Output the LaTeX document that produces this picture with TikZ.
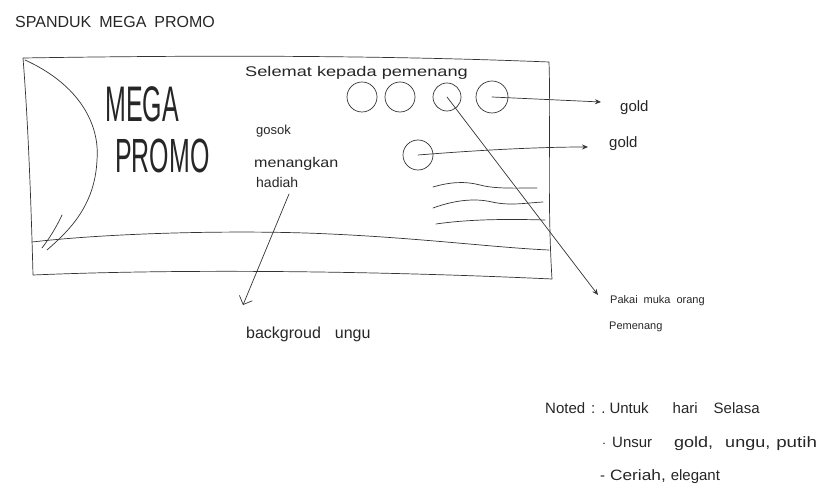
\documentclass[tikz,border=0pt]{standalone}
\usepackage{fontspec}
\setmainfont{Liberation Sans}
\usetikzlibrary{arrows.meta}
\newcommand{\hwsize}[1]{\fontsize{#1}{#1}\selectfont}
\begin{document}
\begin{tikzpicture}[x=1pt,y=-1pt,
  pen/.style={draw=black!80,line width=0.7pt,line cap=round,line join=round},
  circ/.style={pen,circle,minimum size=30pt,inner sep=0pt},
  hw/.style={inner sep=0pt,text=black!85},
  arr/.style={pen,-{Stealth[length=6pt,width=5pt]}},
  openarr/.style={pen,-{Straight Barb[length=7pt,width=14pt]}}]
\useasboundingbox (0,0) rectangle (831,494);

% title
\node[hw,anchor=base west] (title) at (15,28) {\hwsize{16}SPANDUK\hspace{8pt}MEGA\hspace{8pt}PROMO};

% banner outline
\draw[pen] (23,58) .. controls (150,56) and (350,54) .. (549,62)
  .. controls (551,120) and (547,200) .. (552,279)
  .. controls (400,272) and (200,268) .. (33,275)
  .. controls (31,200) and (28,120) .. cycle;
% bottom strip line
\draw[pen] (32,242) .. controls (120,232) and (250,230) .. (330,234)
  .. controls (420,238) and (500,248) .. (549,250);
% left arc
\draw[pen] (25,60) .. controls (80,85) and (100,125) .. (97,160)
  .. controls (95,205) and (70,230) .. (47,250);
\draw[pen] (62,215) .. controls (55,230) and (48,240) .. (42,248);

% texts in banner
\node[hw,anchor=base west] (mega) at (105,122) {\scalebox{0.5}[1]{\hwsize{50}MEGA}};
\node[hw,anchor=base west] (promo) at (115,173) {\scalebox{0.52}[1]{\hwsize{48}PROMO}};
\node[hw,anchor=base west] (selamat) at (245,77) {\scalebox{1.3}[1]{\hwsize{14}Selemat kepada pemenang}};
\node[hw,anchor=base west] (gosok) at (256,135) {\hwsize{13}gosok};
\node[hw,anchor=base west] (menang) at (254,168) {\scalebox{1.15}[1]{\hwsize{14}menangkan}};
\node[hw,anchor=base west] (hadiah) at (256,188) {\hwsize{14}hadiah};

% circles
\node[circ] (c1) at (362,97) {};
\node[circ] (c2) at (400,97) {};
\node[circ,minimum size=28pt] (c3) at (447,97) {};
\node[circ,minimum size=32pt] (c4) at (492,97) {};
\node[circ] (c5) at (418,155) {};

% wavy lines
\draw[pen] (433,187) .. controls (450,182) and (465,181) .. (480,185)
  .. controls (495,189) and (515,188) .. (537,188);
\draw[pen] (433,208) .. controls (455,200) and (475,198) .. (492,202)
  .. controls (510,206) and (525,203) .. (543,202);
\draw[pen] (436,224) .. controls (470,219) and (510,219) .. (545,220);

% labels outside
\node[hw,anchor=base west] (gold1) at (620,112) {\hwsize{15}gold};
\node[hw,anchor=base west] (gold2) at (609,148) {\hwsize{15}gold};
\node[hw,anchor=base west] (pakai) at (610,304) {\hwsize{11}Pakai\hspace{6pt}muka\hspace{6pt}orang};
\node[hw,anchor=base west] (pemenang) at (609,330) {\hwsize{11}Pemenang};
\node[hw,anchor=base west] (bg) at (246,339) {\hwsize{16}backgroud\hspace{14pt}ungu};

\coordinate (t1) at (601,102);
\coordinate (t2) at (588,147);
\coordinate (t3) at (598,295);
\coordinate (t4) at (243,305);
\coordinate (h0) at (289,194);

\draw[arr] (c4.center) -- (t1);
\draw[arr] (c5.center) .. controls (480,150) and (540,147) .. (t2);
\draw[arr] (c3.center) -- (t3);
\draw[openarr] (h0) -- (t4);

% notes
\node[hw,anchor=base west] (noted) at (545,414) {\hwsize{15}Noted\hspace{6pt}:\hspace{6pt}.\hspace{4pt}Untuk\hspace{24pt}hari\hspace{16pt}Selasa};
\node[hw,anchor=base west] (n2) at (602,448) {\hwsize{15}$\cdot$\hspace{6pt}Unsur\hspace{22pt}\scalebox{1.2}[1]{gold,}\hspace{12pt}\scalebox{1.2}[1]{ungu,}\hspace{6pt}\scalebox{1.25}[1]{putih}};
\node[hw,anchor=base west] (n3) at (600,481) {\hwsize{15}-\hspace{5pt}\scalebox{1.15}[1]{Ceriah,}\hspace{5pt}elegant};
\end{tikzpicture}
\end{document}
